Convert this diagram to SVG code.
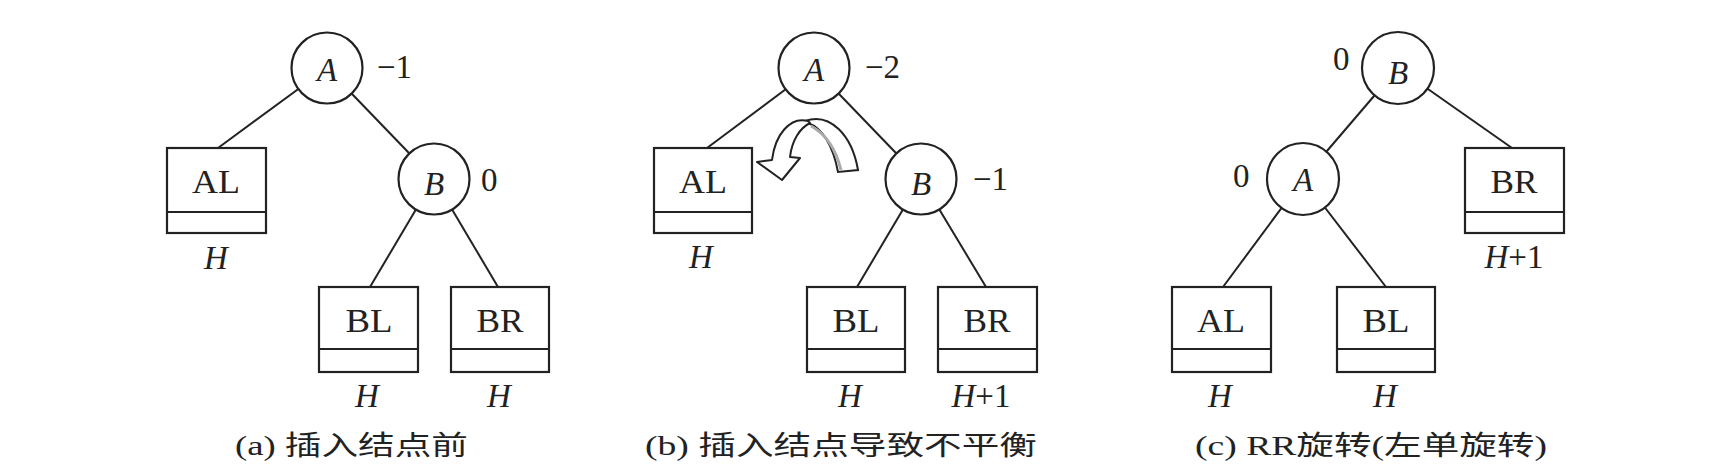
<svg xmlns="http://www.w3.org/2000/svg" width="1712" height="476" viewBox="0 0 1712 476">
<style>
.ln{stroke:#222;stroke-width:2;fill:none}
.nd{fill:#fff;stroke:#222;stroke-width:2.2}
.bx{fill:#fff;stroke:#222;stroke-width:2.2}
.dv{stroke:#222;stroke-width:2}
.t{font-family:"Liberation Serif","Times New Roman",serif;font-size:33px;fill:#222}
.it{font-style:italic}
.c{text-anchor:middle}
.cap{font-family:"Liberation Serif","Noto Sans CJK SC",serif;font-size:27px;fill:#222}
</style>
<rect width="1712" height="476" fill="#fff"/>
<g id="connectors">
<line class="ln" x1="327" y1="68" x2="218" y2="148"/>
<line class="ln" x1="327" y1="68" x2="434" y2="179"/>
<line class="ln" x1="434" y1="179" x2="370" y2="287"/>
<line class="ln" x1="434" y1="179" x2="498" y2="287"/>
<line class="ln" x1="814" y1="68" x2="707" y2="148"/>
<line class="ln" x1="814" y1="68" x2="921" y2="179"/>
<line class="ln" x1="921" y1="179" x2="857" y2="287"/>
<line class="ln" x1="921" y1="179" x2="986" y2="287"/>
<line class="ln" x1="1398" y1="68" x2="1303" y2="179"/>
<line class="ln" x1="1398" y1="68" x2="1512" y2="148"/>
<line class="ln" x1="1303" y1="179" x2="1223" y2="287"/>
<line class="ln" x1="1303" y1="179" x2="1386" y2="287"/>
</g>
<!-- panel a -->
<g id="a-A"><circle class="nd" cx="327" cy="68" r="35.5"/><text class="t it c" x="327" y="81">A</text><text class="t" x="377" y="78">−1</text></g>
<g id="a-B"><circle class="nd" cx="434" cy="179" r="35.5"/><text class="t it c" x="434" y="195">B</text><text class="t" x="481" y="191">0</text></g>
<g id="a-AL"><rect class="bx" x="167" y="148" width="99" height="85"/><line class="dv" x1="167" y1="212" x2="266" y2="212"/><text class="t c" x="216" y="193" textLength="48" lengthAdjust="spacingAndGlyphs">AL</text><text class="t it c" x="216" y="269">H</text></g>
<g id="a-BL"><rect class="bx" x="319" y="287" width="99" height="85"/><line class="dv" x1="319" y1="349" x2="418" y2="349"/><text class="t c" x="369" y="332" textLength="47" lengthAdjust="spacingAndGlyphs">BL</text><text class="t it c" x="367" y="407">H</text></g>
<g id="a-BR"><rect class="bx" x="451" y="287" width="98" height="85"/><line class="dv" x1="451" y1="349" x2="549" y2="349"/><text class="t c" x="500" y="332" textLength="47" lengthAdjust="spacingAndGlyphs">BR</text><text class="t it c" x="499" y="407">H</text></g>
<text class="cap" x="235" y="455" textLength="233" lengthAdjust="spacingAndGlyphs">(a) 插入结点前</text>
<!-- panel b -->
<g id="b-A"><circle class="nd" cx="814" cy="68" r="35.5"/><text class="t it c" x="814" y="81">A</text><text class="t" x="865" y="78">−2</text></g>
<g id="b-B"><circle class="nd" cx="921" cy="179" r="35.5"/><text class="t it c" x="921" y="195">B</text><text class="t" x="973" y="190">−1</text></g>
<g id="b-AL"><rect class="bx" x="654" y="148" width="98" height="85"/><line class="dv" x1="654" y1="212" x2="752" y2="212"/><text class="t c" x="703" y="193" textLength="48" lengthAdjust="spacingAndGlyphs">AL</text><text class="t it c" x="701" y="268">H</text></g>
<g id="b-BL"><rect class="bx" x="807" y="287" width="98" height="85"/><line class="dv" x1="807" y1="349" x2="905" y2="349"/><text class="t c" x="856" y="332" textLength="47" lengthAdjust="spacingAndGlyphs">BL</text><text class="t it c" x="850" y="407">H</text></g>
<g id="b-BR"><rect class="bx" x="938" y="287" width="99" height="85"/><line class="dv" x1="938" y1="349" x2="1037" y2="349"/><text class="t c" x="987" y="332" textLength="47" lengthAdjust="spacingAndGlyphs">BR</text><text class="t c" x="981" y="407"><tspan class="it">H</tspan>+1</text></g>
<g id="b-rotate">
<path d="M805 121 C830 112 852 135 858 170 L838 172 C833 145 822 128 808 123 Z" fill="#fff" stroke="#222" stroke-width="2"/>
<path d="M811 126 C826 134 836 150 841 170" fill="none" stroke="#aaa" stroke-width="3"/>
<path d="M808 121 C790 116 775 135 772 160 L757 162 L782 180 L800 158 L790 157 C792 140 800 128 810 123 Z" fill="#fff" stroke="#222" stroke-width="2" stroke-linejoin="round"/>
</g>
<text class="cap" x="645" y="455" textLength="392" lengthAdjust="spacingAndGlyphs">(b) 插入结点导致不平衡</text>
<!-- panel c -->
<g id="c-B"><circle class="nd" cx="1398" cy="68" r="36"/><text class="t it c" x="1398" y="84">B</text><text class="t" x="1333" y="70">0</text></g>
<g id="c-A"><circle class="nd" cx="1303" cy="179" r="36"/><text class="t it c" x="1303" y="191">A</text><text class="t" x="1233" y="187">0</text></g>
<g id="c-BR"><rect class="bx" x="1465" y="148" width="99" height="85"/><line class="dv" x1="1465" y1="212" x2="1564" y2="212"/><text class="t c" x="1514" y="193" textLength="47" lengthAdjust="spacingAndGlyphs">BR</text><text class="t c" x="1514" y="268"><tspan class="it">H</tspan>+1</text></g>
<g id="c-AL"><rect class="bx" x="1172" y="287" width="99" height="85"/><line class="dv" x1="1172" y1="349" x2="1271" y2="349"/><text class="t c" x="1221" y="332" textLength="48" lengthAdjust="spacingAndGlyphs">AL</text><text class="t it c" x="1220" y="407">H</text></g>
<g id="c-BL"><rect class="bx" x="1337" y="287" width="98" height="85"/><line class="dv" x1="1337" y1="349" x2="1435" y2="349"/><text class="t c" x="1386" y="332" textLength="47" lengthAdjust="spacingAndGlyphs">BL</text><text class="t it c" x="1385" y="407">H</text></g>
<text class="cap" x="1195" y="455" textLength="352" lengthAdjust="spacingAndGlyphs">(c) RR旋转(左单旋转)</text>
</svg>
